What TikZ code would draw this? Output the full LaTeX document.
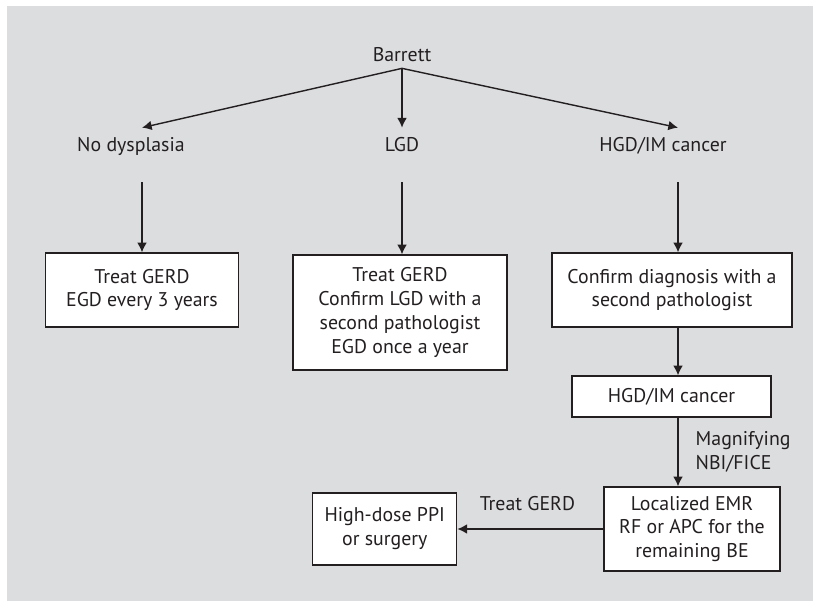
\documentclass[tikz,border=0pt]{standalone}
\usepackage{fontspec}
\setmainfont{PT Sans}
\usepackage{tikz}
\usetikzlibrary{positioning, arrows.meta}
\definecolor{bggray}{HTML}{DCDDDF}
\definecolor{ink}{HTML}{231F20}
\tikzstyle{arrow} = [draw=ink, line width=0.8pt, -{Latex[length=5.5pt,width=5.5pt]}]
\tikzstyle{box} = [draw=ink, fill=white, line width=0.75pt, align=center, inner sep=0pt]
\tikzstyle{lbl} = [align=center, minimum height=1.08cm, inner sep=0pt, text height=0.3cm, text depth=0.46cm]

\begin{document}
\begin{tikzpicture}[x=0.02cm, y=-0.02cm, every node/.style={text=ink, font=\fontsize{11.3}{13.6}\selectfont}]
  % Background
  \useasboundingbox (0,0) rectangle (813,601);
  \fill[bggray] (7,6) rectangle (813,601);

  % Top level
  \node (barrett) at (402,55) {Barrett};
  \node[lbl] (nodys) at (131,155) {No dysplasia};
  \node[lbl] (lgd) at (402,155) {LGD};
  \node[lbl] (hgd) at (663,155) {HGD/IM cancer};
  \coordinate (hgdcol) at (678,0);

  % Boxes
  \node[box, minimum width=3.86cm, minimum height=1.48cm] (box1) at (142,290) {Treat GERD\\EGD every 3 years};
  \node[box, minimum width=4.28cm, minimum height=2.30cm] (box2) at (400,312.5) {Treat GERD\\Confirm LGD with a\\second pathologist\\EGD once a year};
  \node[box, minimum width=4.80cm, minimum height=1.48cm] (box3) at (672,290) {Confirm diagnosis with a\\second pathologist};
  \node[box, minimum width=3.98cm, minimum height=0.82cm] (box4) at (671.5,396.5) {HGD/IM cancer};
  \node[box, minimum width=3.52cm, minimum height=1.68cm] (box5) at (692,529) {Localized EMR\\RF or APC for the\\remaining BE};
  \node[box, minimum width=2.88cm, minimum height=1.44cm, left=2.92cm of box5] (box6) {High-dose PPI\\or surgery};

  % Arrows
  \draw[arrow] (barrett.south) -- (nodys.north -| box1.north);
  \draw[arrow] (barrett.south) -- (lgd.north);
  \draw[arrow] (barrett.south) -- (hgd.north -| hgdcol);
  \draw[arrow] (nodys.south -| box1.north) -- (box1.north);
  \draw[arrow] (lgd.south) -- (lgd.south |- box2.north);
  \draw[arrow] (hgd.south -| hgdcol) -- (box3.north -| hgdcol);
  \draw[arrow] (box3.south -| hgdcol) -- (box4.north -| hgdcol);
  \draw[arrow] (box4.south -| hgdcol) -- (box5.north -| hgdcol)
    node[midway, right=0.34cm, align=left, inner sep=0pt] {Magnifying\\NBI/FICE};
  \draw[arrow] (box5.west) -- (box6.east)
    node[midway, above=0.36cm, inner sep=0pt, xshift=-0.06cm] {Treat GERD};
\end{tikzpicture}
\end{document}
